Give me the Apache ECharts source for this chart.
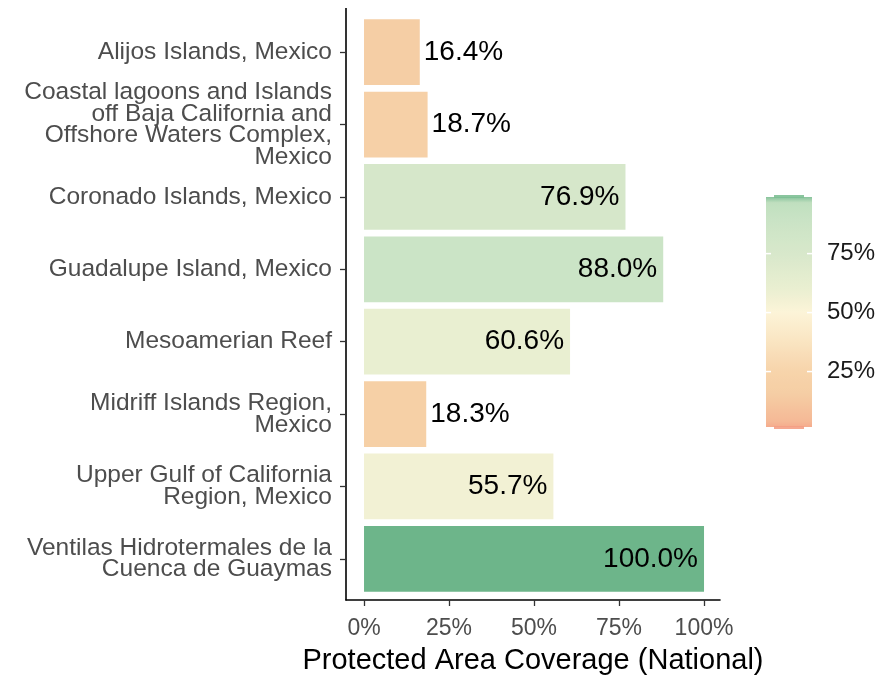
<!DOCTYPE html>
<html>
<head>
<meta charset="utf-8">
<script src="https://cdn.jsdelivr.net/npm/echarts@6/dist/echarts.min.js"></script>
<style>
  html, body { margin: 0; padding: 0; background: #fff; }
  #chart { width: 878px; height: 681px; }
</style>
</head>
<body>
<div id="chart"></div>
<script>
const categories = [
  "Alijos Islands, Mexico",
  "Coastal lagoons and Islands\noff Baja California and\nOffshore Waters Complex,\nMexico",
  "Coronado Islands, Mexico",
  "Guadalupe Island, Mexico",
  "Mesoamerian Reef",
  "Midriff Islands Region,\nMexico",
  "Upper Gulf of California\nRegion, Mexico",
  "Ventilas Hidrotermales de la\nCuenca de Guaymas"
];
const coverage = [16.4, 18.7, 76.9, 88.0, 60.6, 18.3, 55.7, 100.0];
const xTicks = [0, 25, 50, 75, 100];
const legendTicks = [25, 50, 75];

// colour ramp (value -> colour)
const rampStops = [
  [0, "#f49e84"], [3, "#f5b795"], [16, "#f5cea5"], [25, "#f7d4aa"],
  [50, "#fcf4d8"], [60, "#eaefd1"], [75, "#d8e8cb"], [88, "#cbe4c6"],
  [97, "#bfdfbf"], [100, "#6db58a"]
];

function colorFor(v) {
  for (let i = 1; i < rampStops.length; i++) {
    const [v0, c0] = rampStops[i - 1];
    const [v1, c1] = rampStops[i];
    if (v <= v1) {
      const t = Math.max(0, (v - v0) / (v1 - v0));
      return echarts.color.lerp(t, [c0, c1]);
    }
  }
  return rampStops[rampStops.length - 1][1];
}

const FONT = "'Liberation Sans', Arial, sans-serif";

// legend geometry
const leg = { x: 766, y: 197, w: 46, h: 230, min: 1.5, max: 99 };
const legY = (v) => leg.y + leg.h * (1 - (v - leg.min) / (leg.max - leg.min));

const gradStops = [];
for (let i = 0; i <= 40; i++) {
  const v = leg.min + (leg.max - leg.min) * i / 40;
  gradStops.push({ offset: i / 40, color: colorFor(v) });
}

const legendGraphics = [
  {
    type: "rect",
    shape: { x: leg.x, y: leg.y, width: leg.w, height: leg.h },
    style: {
      fill: new echarts.graphic.LinearGradient(0, 1, 0, 0, gradStops)
    }
  },
  {
    type: "rect",
    shape: { x: leg.x + 8, y: leg.y - 2, width: leg.w - 16, height: 3 },
    style: { fill: "#7dbf93", opacity: 0.9 }
  },
  {
    type: "rect",
    shape: { x: leg.x + 8, y: leg.y + leg.h - 1, width: leg.w - 16, height: 3 },
    style: { fill: colorFor(0), opacity: 0.9 }
  },
  // y axis line spanning the whole panel
  {
    type: "line",
    shape: { x1: 346, y1: 8, x2: 346, y2: 600.5 },
    style: { stroke: "#000", lineWidth: 1.6 }
  }
];
legendTicks.forEach((v) => {
  const y = legY(v);
  legendGraphics.push(
    { type: "line", shape: { x1: leg.x, y1: y, x2: leg.x + 5, y2: y }, style: { stroke: "#fff", lineWidth: 1.5 } },
    { type: "line", shape: { x1: leg.x + leg.w - 5, y1: y, x2: leg.x + leg.w, y2: y }, style: { stroke: "#fff", lineWidth: 1.5 } },
    {
      type: "text",
      x: 827, y: y,
      style: { text: v + "%", font: "24px " + FONT, fill: "#1a1a1a", verticalAlign: "middle", align: "left" }
    }
  );
});

const chart = echarts.init(document.getElementById("chart"), null, { renderer: "canvas" });

chart.setOption({
  animation: false,
  backgroundColor: "#fff",
  textStyle: { fontFamily: FONT },
  grid: { left: 346, right: 158, top: 16, bottom: 86, containLabel: false },
  xAxis: {
    type: "value",
    min: -5.3,
    max: 104.7,
    offset: 5,
    name: "Protected Area Coverage (National)",
    nameLocation: "middle",
    nameGap: 46,
    nameTextStyle: { fontSize: 29, color: "#000", fontFamily: FONT },
    axisLine: { show: true, lineStyle: { color: "#000", width: 1.6 } },
    axisTick: { show: true, customValues: xTicks, length: 6, lineStyle: { color: "#333", width: 1.3 } },
    axisLabel: {
      customValues: xTicks,
      formatter: (v) => v + "%",
      fontSize: 23,
      color: "#4d4d4d",
      margin: 17,
      fontFamily: FONT
    },
    splitLine: { show: false }
  },
  yAxis: {
    type: "category",
    inverse: true,
    data: categories,
    axisLine: { show: false, onZero: false },
    axisTick: { show: true, alignWithLabel: true, length: 6, lineStyle: { color: "#333", width: 1.3 } },
    axisLabel: {
      fontSize: 24.5,
      lineHeight: 21.5,
      color: "#4d4d4d",
      margin: 14,
      padding: [6, 0, 0, 0],
      align: "right",
      fontFamily: FONT
    }
  },
  series: [
    {
      type: "bar",
      barCategoryGap: "9%",
      data: coverage.map((v) => ({
        value: v,
        itemStyle: { color: colorFor(v) },
        label: v > 50
          ? { position: "insideRight", distance: 6 }
          : { position: "right", distance: 4 }
      })),
      label: {
        show: true,
        formatter: (p) => p.value.toFixed(1) + "%",
        fontSize: 28,
        color: "#000",
        fontFamily: FONT
      }
    }
  ],
  graphic: legendGraphics
});
</script>
</body>
</html>
